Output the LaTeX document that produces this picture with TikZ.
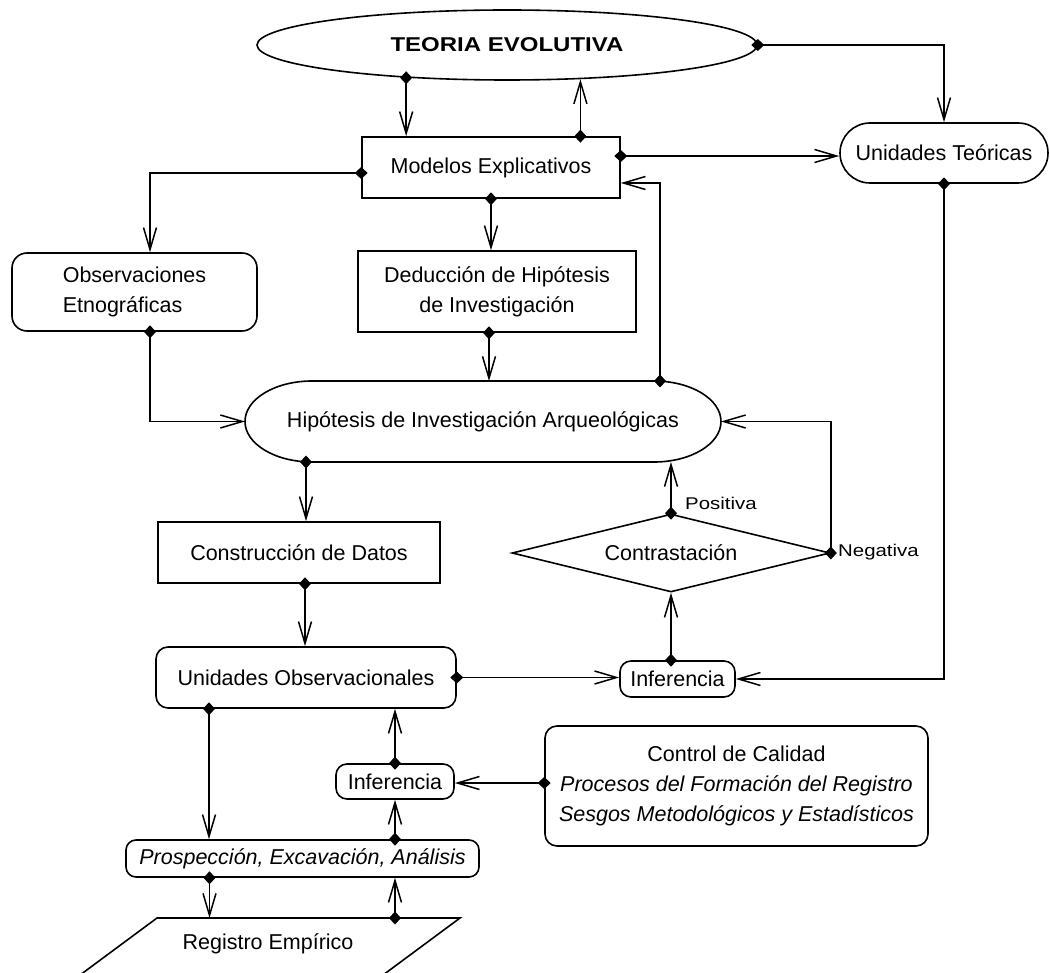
\documentclass[tikz,border=0pt]{standalone}
\usepackage{fontspec}
\setmainfont{Liberation Sans}
\newfontfamily\widefont{Liberation Sans}[FakeStretch=1.2]
\usetikzlibrary{shapes.geometric,arrows.meta}

\begin{document}
\begin{tikzpicture}[x=1pt, y=-1pt,
  boxline/.style={line width=1.6pt},
  box/.style={rectangle, draw, boxline, inner sep=2pt, align=center, font=\fontsize{21.5}{30}\selectfont},
  rbox/.style={box, rounded corners=12pt},
  link/.style={line width=1.5pt, {Diamond[length=13pt,width=12pt]}-{Straight Barb[length=22pt,width=13pt]}, shorten <=-6.5pt},
  lbl/.style={anchor=west, inner sep=0pt, font=\widefont\fontsize{17}{20}\selectfont}]
\fill[white] (0,0) rectangle (1050,973);
\useasboundingbox (0,0) rectangle (1050,973);

% nodes
\node[ellipse, draw, boxline, minimum width=500pt, minimum height=70pt, inner sep=0pt, font=\widefont\bfseries\fontsize{20}{24}\selectfont] (teoria) at (507,45) {TEORIA EVOLUTIVA};
\node[box, minimum width=258pt, minimum height=61pt] (modelos) at (491,167.5) {Modelos Explicativos};
\node[rbox, rounded corners=30pt, minimum width=208pt, minimum height=60pt] (ut) at (944,153) {Unidades Teóricas};
\node[rbox, rounded corners=15pt, align=left, minimum width=245pt, minimum height=78pt] (obs) at (134.5,292) {Observaciones\\Etnográficas};
\node[box, minimum width=278pt, minimum height=81pt] (deduc) at (497,291.5) {Deducción de Hipótesis\\de Investigación};
\node[box, draw=none, outer sep=0pt, minimum width=476pt, minimum height=81pt] (hip) at (483,421.5) {Hipótesis de Investigación Arqueológicas};
\draw[boxline] ([xshift=67pt]hip.north west) -- ([xshift=-67pt]hip.north east)
  arc[start angle=90, end angle=-90, x radius=67pt, y radius=40.5pt]
  -- ([xshift=67pt]hip.south west)
  arc[start angle=270, end angle=90, x radius=67pt, y radius=40.5pt] -- cycle;
\node[diamond, draw, boxline, aspect=4.08, minimum width=318pt, minimum height=78pt, inner sep=0pt, font=\fontsize{21.5}{30}\selectfont] (contr) at (671,553) {Contrastación};
\node[lbl] (pos) at (685,503) {Positiva};
\node[lbl] (neg) at (838,552) {Negativa};
\node[box, minimum width=282pt, minimum height=61pt] (construc) at (299,552.5) {Construcción de Datos};
\node[rbox, minimum width=300pt, minimum height=61pt] (unobs) at (306,677.5) {Unidades Observacionales};
\node[rbox, rounded corners=11pt, minimum width=115pt, minimum height=36pt] (inf1) at (677.5,679) {Inferencia};
\node[rbox, rounded corners=11pt, minimum width=118pt, minimum height=35pt] (inf2) at (395,781.5) {Inferencia};
\node[rbox, minimum width=383pt, minimum height=120pt] (calidad) at (736.5,786) {Control de Calidad\\\textit{Procesos del Formación del Registro}\\\textit{Sesgos Metodológicos y Estadísticos}};
\node[rbox, rounded corners=10pt, minimum width=353pt, minimum height=37pt, font=\itshape\fontsize{21.5}{30}\selectfont] (prosp) at (302.5,858.5) {Prospección, Excavación, Análisis};
\coordinate (regtl) at (157,918);
\coordinate (regtr) at (460,918);
\draw[boxline] (76,978) -- (regtl) -- (regtr) -- (379,978);
\node[font=\fontsize{21.5}{30}\selectfont] (reg) at (268,944) {Registro Empírico};

% connectors
\draw[link] (teoria.198) -- (teoria.198 |- modelos.north);
\draw[link] (teoria.335 |- modelos.north) -- (teoria.335);
\draw[link] (teoria.east) -| (ut.north);
\draw[link] ([yshift=-5.5pt]modelos.west) -| ([xshift=15.5pt]obs.north);
\draw[link] ([yshift=11.5pt]modelos.east) -- ([yshift=11.5pt]modelos.east -| ut.west);
\draw[link] (modelos.south) -- (modelos.south |- deduc.north);
\draw[link] ([xshift=177pt]hip.north) |- ([yshift=-15.5pt]modelos.east);
\draw[link] (ut.south) |- (inf1.east);
\draw[link] ([xshift=15.5pt]obs.south) |- (hip.west);
\draw[link] ([xshift=-8pt]deduc.south) -- ([xshift=-8pt]deduc.south |- hip.north);
\draw[link] ([xshift=-177pt]hip.south) -- ([xshift=-177pt]hip.south |- construc.north);
\draw[link] (contr.north) -- (contr.north |- hip.south);
\draw[link] (contr.east) |- (hip.east);
\draw[link] ([xshift=6pt]construc.south) -- ([xshift=6pt]construc.south |- unobs.north);
\draw[link] (unobs.east) -- (unobs.east -| inf1.west);
\draw[link] (contr.south |- inf1.north) -- (contr.south);
\draw[link] ([xshift=-97pt]unobs.south) -- ([xshift=-97pt]unobs.south |- prosp.north);
\draw[link] (inf2.north) -- (inf2.north |- unobs.south);
\draw[link] ([yshift=3pt]calidad.west) -- ([yshift=3pt]calidad.west -| inf2.east);
\draw[link] (inf2.south |- prosp.north) -- (inf2.south);
\draw[link] ([xshift=-93pt]prosp.south) -- ([xshift=-93pt]prosp.south |- regtl);
\draw[link] (inf2.south |- regtl) -- (inf2.south |- prosp.south);
\end{tikzpicture}
\end{document}
